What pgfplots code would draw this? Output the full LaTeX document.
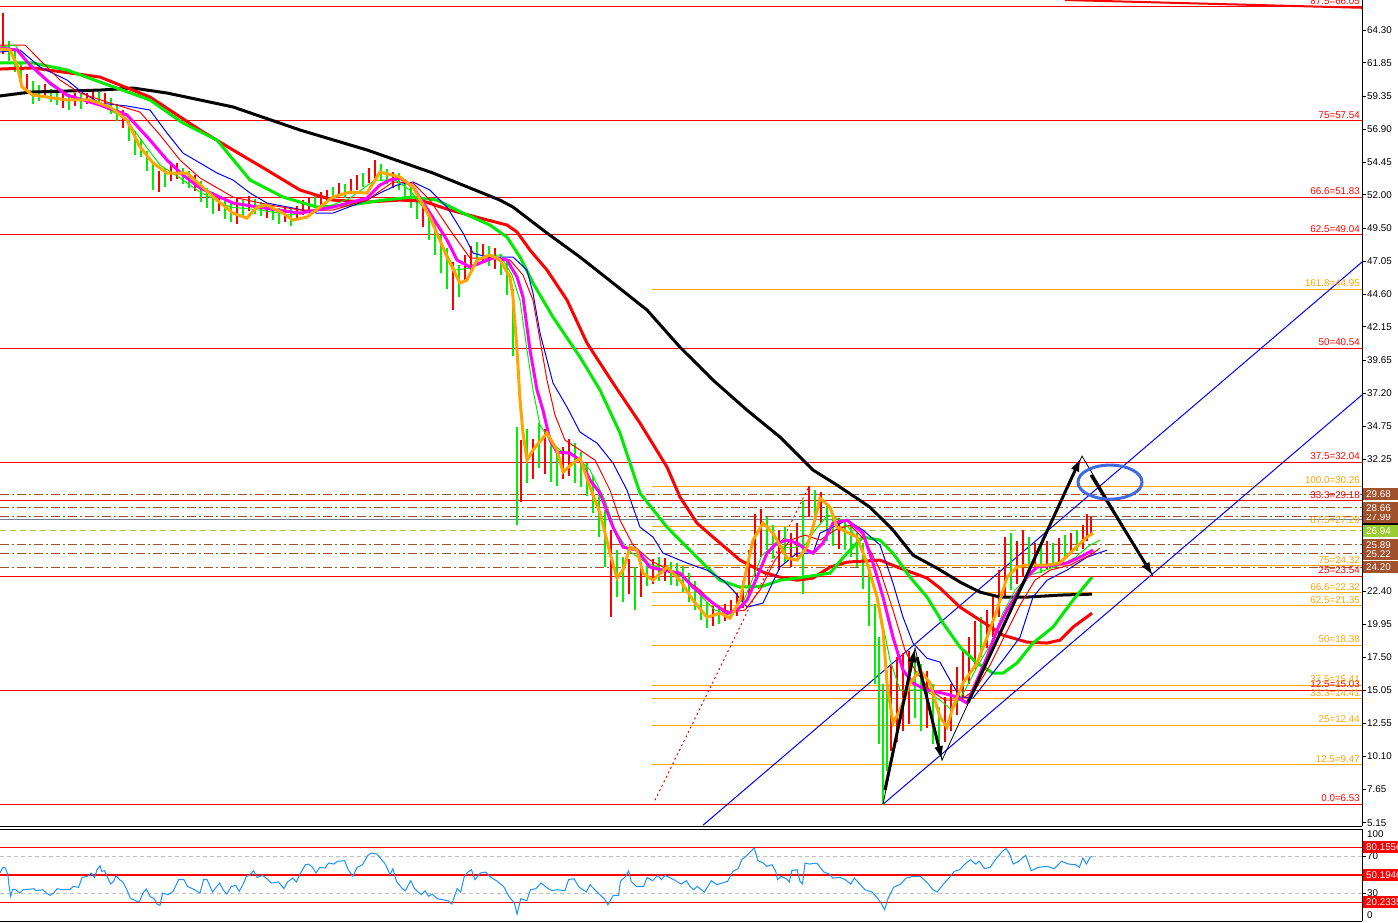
\documentclass[border=0pt]{standalone}
\usepackage{fontspec}
\setmainfont{Liberation Sans}
\usepackage{pgfplots}
\usepackage{pgfplotstable}
\pgfplotsset{compat=1.18}
\usetikzlibrary{arrows.meta}

\definecolor{barG}{RGB}{0,240,0}
\definecolor{barR}{RGB}{255,0,0}
\definecolor{maOr}{RGB}{255,165,0}
\definecolor{maMag}{RGB}{255,0,255}
\definecolor{maGr}{RGB}{0,235,0}
\definecolor{fibOr}{RGB}{255,165,0}
\definecolor{brn}{RGB}{160,82,45}
\definecolor{ygr}{RGB}{154,205,50}
\definecolor{sgray}{RGB}{112,128,144}
\definecolor{rsiB}{RGB}{30,144,255}
\definecolor{ellB}{RGB}{65,105,225}
\definecolor{lblR}{RGB}{255,0,0}
\definecolor{silv}{RGB}{192,192,192}

\newcommand{\lbl}{\fontsize{9.8}{10}\selectfont}

\pgfplotstableread{
x lo hi
9 62.0 63.5
15 61.2 62.8
21 60.2 61.8
33 58.8 60.5
39 59.0 60.2
51 58.9 59.9
57 58.7 59.8
69 58.3 59.5
81 58.4 59.5
99 58.8 59.7
111 58.0 59.2
117 57.5 58.8
129 56.0 57.6
135 55.0 56.8
141 54.8 56.2
147 53.8 55.3
153 52.4 54.5
165 52.6 54.0
183 52.8 54.0
189 52.5 53.8
201 51.5 53.0
207 51.0 52.5
213 50.6 52.2
225 50.2 51.6
231 50.0 51.5
243 50.3 51.6
255 50.6 51.7
261 50.4 51.5
273 50.1 51.2
279 49.8 51.0
291 49.7 51.0
315 51.0 51.9
333 51.6 52.6
345 51.8 52.8
363 52.6 53.6
381 53.0 54.3
387 52.8 53.9
399 52.4 53.6
405 51.8 53.2
411 51.0 52.8
417 50.2 52.2
429 48.6 50.8
435 47.5 50.0
441 46.2 49.0
447 45.0 48.0
459 44.4 46.8
477 46.8 48.5
489 46.7 48.2
501 46.0 47.6
507 44.5 47.0
513 40.0 45.0
517 27.4 34.7
527 30.5 34.5
539 31.6 35.0
551 30.6 33.6
557 30.3 33.0
575 30.5 33.5
581 30.2 32.8
587 29.5 32.0
593 28.3 31.0
599 26.5 30.0
605 24.2 28.5
617 22.0 25.5
623 21.6 25.0
635 21.0 24.2
647 22.8 24.5
659 23.2 25.0
671 22.9 24.6
677 22.8 24.5
683 22.4 24.3
689 21.6 23.8
695 21.0 23.2
701 20.3 22.4
707 19.7 21.6
719 20.0 21.4
767 25.5 28.0
773 24.8 27.4
785 24.5 27.2
803 22.2 29.2
815 27.8 30.0
827 26.2 28.8
833 25.8 28.2
845 25.5 27.8
851 25.0 27.4
857 24.2 26.8
863 22.6 26.0
869 19.8 24.0
875 15.5 21.5
879 11.0 19.0
883 6.5 15.5
887 9.0 16.5
915 13.0 17.6
921 12.0 17.0
933 11.0 15.5
939 10.3 13.8
981 17.5 20.5
1011 22.5 26.8
1029 23.8 26.5
1041 23.8 25.8
1053 24.2 26.0
1065 24.8 26.6
1077 25.4 27.0
}\greenbars

\pgfplotstableread{
x lo hi
3 62.5 65.6
27 59.5 61.0
45 59.3 60.3
63 58.5 59.7
75 58.6 59.6
87 58.8 59.6
93 59.0 59.8
105 58.6 59.6
123 57.0 58.3
159 52.2 53.8
171 53.0 54.2
177 53.2 54.4
195 52.3 53.5
219 50.8 51.9
237 49.8 51.8
249 50.8 51.9
267 50.3 51.4
285 50.0 51.1
297 50.2 51.2
303 50.5 51.6
309 50.9 51.8
321 51.2 52.2
327 51.5 52.4
339 51.9 52.9
351 52.1 53.2
357 52.4 53.5
369 52.9 54.0
375 53.2 54.6
393 52.5 53.7
423 49.6 51.5
453 43.4 47.0
465 45.6 47.5
471 46.4 48.2
483 46.9 48.3
495 46.5 48.0
521 29.1 33.7
533 30.8 33.8
545 31.2 34.5
563 30.8 33.2
569 31.0 33.8
611 20.5 27.0
629 22.2 24.8
641 22.0 24.6
653 23.0 24.8
665 23.2 24.9
713 19.8 21.3
725 20.2 21.5
731 20.4 21.8
737 20.6 22.3
743 21.2 23.2
749 22.0 25.5
755 23.5 28.2
761 25.0 28.6
779 24.0 27.0
791 24.2 26.8
797 25.0 27.5
809 28.0 30.3
821 27.5 29.8
839 25.6 27.9
891 10.5 17.0
897 11.2 17.5
903 12.0 17.8
909 12.5 18.0
927 12.2 16.5
945 11.2 14.5
951 12.0 15.5
957 13.2 16.8
963 14.5 18.0
969 15.5 19.0
975 16.6 20.2
987 18.2 21.0
993 19.0 22.0
999 20.5 24.0
1005 22.0 26.5
1017 23.0 26.2
1023 23.5 27.0
1035 24.0 26.0
1047 24.0 26.2
1059 24.5 26.4
1071 25.2 26.8
1083 25.6 27.4
1087 26.2 28.2
1091 26.8 28.0
}\redbars

\newcommand{\hl}[3]{\addplot[#1, forget plot] coordinates {(#2,#3) (1362,#3)};}
\newcommand{\fl}[3]{\node[anchor=base east, text=#1, font=\lbl, inner sep=0pt, yshift=2.5pt] at (axis cs:1360,#2) {#3};}
\newcommand{\bx}[3]{\fill[#1] ([yshift=-6pt]axis cs:1363,#2) rectangle ([yshift=6pt]axis cs:1400,#2);
  \node[anchor=west, text=#3, font=\lbl, inner sep=0pt] at (axis cs:1366,#2) {#2};}

\begin{document}
\begin{tikzpicture}
\begin{axis}[
  at={(0pt,0pt)}, anchor=north west, scale only axis,
  width=1362pt, height=826pt,
  xmin=0, xmax=1362, ymin=4.91, ymax=66.54,
  clip=false,
  axis x line*=bottom, axis y line*=right,
  axis line style={black, line width=1pt},
  xtick=\empty,
  ytick={64.30,61.85,59.35,56.90,54.45,52.00,49.50,47.05,44.60,42.15,39.65,37.20,34.75,32.25,22.40,19.95,17.50,15.05,12.55,10.10,7.65,5.15},
  yticklabels={64.30,61.85,59.35,56.90,54.45,52.00,49.50,47.05,44.60,42.15,39.65,37.20,34.75,32.25,22.40,19.95,17.50,15.05,12.55,10.10,7.65,5.15},
  tick align=outside, major tick length=4pt,
  tick style={black, line width=0.8pt},
  yticklabel style={anchor=west, inner sep=0pt, xshift=1pt, font=\lbl},
]
% red fib levels (full width)
\hl{red, line width=1pt}{0}{66.05}
\hl{red, line width=1pt}{0}{57.54}
\hl{red, line width=1pt}{0}{51.83}
\hl{red, line width=1pt}{0}{49.04}
\hl{red, line width=1pt}{0}{40.54}
\hl{red, line width=1pt}{0}{32.04}
\hl{red, line width=1pt}{0}{29.18}
\hl{red, line width=1pt}{0}{23.54}
\hl{red, line width=1pt}{0}{15.03}
\hl{red, line width=1pt}{0}{6.53}
% orange fib levels
\hl{fibOr, line width=1pt}{652}{44.95}
\hl{fibOr, line width=1pt}{652}{30.26}
\hl{fibOr, line width=1pt}{652}{27.29}
\hl{fibOr, line width=1pt}{652}{24.32}
\hl{fibOr, line width=1pt}{652}{22.32}
\hl{fibOr, line width=1pt}{652}{21.35}
\hl{fibOr, line width=1pt}{652}{18.38}
\hl{fibOr, line width=1pt}{652}{15.41}
\hl{fibOr, line width=1pt}{652}{14.41}
\hl{fibOr, line width=1pt}{652}{12.44}
\hl{fibOr, line width=1pt}{652}{9.47}
% dashed levels
\hl{brn, line width=1pt, dash pattern=on 9pt off 3pt on 2pt off 3pt}{0}{29.68}
\hl{brn, line width=1pt, dash pattern=on 9pt off 3pt on 2pt off 3pt}{0}{28.66}
\hl{brn, line width=1pt, dash pattern=on 9pt off 3pt on 2pt off 3pt}{0}{27.99}
\hl{brn, line width=1pt, dash pattern=on 9pt off 3pt on 2pt off 3pt}{0}{25.89}
\hl{brn, line width=1pt, dash pattern=on 9pt off 3pt on 2pt off 3pt}{0}{25.22}
\hl{brn, line width=1pt, dash pattern=on 9pt off 3pt on 2pt off 3pt}{0}{24.20}
\hl{sgray, line width=1.2pt}{0}{27.78}
\hl{ygr, line width=1pt, dash pattern=on 6pt off 4pt}{0}{26.94}
% top sloped red line
\addplot[red, line width=2pt, forget plot] coordinates {(1065,66.54) (1362,65.96)};
% red dotted anchor line
\addplot[red, line width=1pt, dash pattern=on 2pt off 3pt, forget plot] coordinates {(655,6.84) (808,30.12)};
% channel
\addplot[blue, line width=1pt, forget plot] coordinates {(703,4.97) (1362,46.99)};
\addplot[blue, line width=1pt, forget plot] coordinates {(883,6.53) (1362,37.08)};

% bars
\addplot[draw=none, no markers, forget plot, error bars/.cd, y dir=plus, y explicit, error mark=none,
  error bar style={draw=barG, solid, line width=1.6pt}] table[x=x, y=lo, y error expr=\thisrow{hi}-\thisrow{lo}] {\greenbars};
\addplot[draw=none, no markers, forget plot, error bars/.cd, y dir=plus, y explicit, error mark=none,
  error bar style={draw=barR, solid, line width=1.6pt}] table[x=x, y=lo, y error expr=\thisrow{hi}-\thisrow{lo}] {\redbars};

% moving averages
\addplot[black, line width=3pt, forget plot] coordinates {(0,59.38) (30,59.67) (100,59.82) (133,59.97) (167,59.60) (233,58.56) (300,56.84) (367,55.35) (433,53.63) (500,51.61) (513,51.09) (547,49.15) (580,47.36) (613,45.42) (647,43.41) (680,40.64) (713,38.18) (747,35.94) (780,33.93) (813,31.47) (837,30.35) (870,28.70) (893,26.99) (913,25.12) (937,24.15) (960,23.11) (980,22.36) (1000,21.99) (1027,21.99) (1060,22.14) (1092,22.21)};
\addplot[red, line width=3pt, forget plot] coordinates {(0,61.39) (33,61.47) (100,60.79) (150,59.30) (200,56.84) (233,55.35) (267,53.85) (300,52.36) (333,51.61) (367,51.47) (400,51.61) (423,51.54) (450,50.87) (480,50.27) (507,49.75) (517,49.23) (530,47.88) (547,46.39) (567,44.15) (587,40.94) (613,37.96) (640,34.97) (667,31.69) (680,29.45) (697,27.51) (713,26.47) (740,24.75) (763,23.85) (780,23.48) (797,23.25) (813,23.41) (830,24.23) (847,24.60) (880,24.75) (900,24.15) (927,23.41) (940,22.66) (960,21.24) (980,20.27) (1003,19.15) (1027,18.63) (1047,18.56) (1060,18.78) (1073,19.75) (1092,20.79)};
\addplot[maGr, line width=3pt, forget plot] coordinates {(0,61.84) (33,61.84) (67,61.32) (100,60.42) (150,59.08) (183,57.36) (217,56.09) (250,53.11) (283,51.84) (317,51.09) (350,51.24) (383,51.61) (413,51.84) (437,51.61) (463,50.64) (490,49.75) (507,48.85) (520,47.36) (533,45.42) (553,42.88) (580,39.90) (600,37.44) (620,34.23) (640,29.75) (667,27.21) (697,24.97) (720,23.25) (740,22.73) (763,22.81) (780,23.25) (797,23.41) (830,23.78) (847,25.27) (863,26.47) (880,26.24) (893,25.27) (910,23.48) (927,21.99) (943,20.05) (960,18.26) (977,17.07) (993,16.32) (1003,16.32) (1017,17.07) (1033,18.56) (1053,19.75) (1073,21.76) (1092,23.48)};
\addplot[blue, line width=1pt, forget plot] coordinates {(0,62.66) (20,62.81) (40,61.54) (67,60.57) (83,59.60) (100,58.85) (127,58.63) (150,58.33) (167,56.61) (183,55.12) (200,54.38) (217,53.63) (233,53.11) (250,52.14) (267,51.39) (293,51.02) (317,50.64) (333,50.64) (367,51.61) (380,52.14) (397,52.73) (413,52.96) (430,52.36) (447,51.09) (463,49.15) (473,47.66) (487,47.36) (513,47.36) (527,46.39) (533,44.67) (540,41.69) (553,37.96) (567,36.17) (580,34.30) (597,33.48) (613,31.99) (627,29.97) (640,27.21) (653,26.47) (663,25.27) (687,24.53) (707,24.00) (723,23.25) (733,22.51) (747,21.24) (763,21.54) (780,24.23) (797,25.27) (813,25.27) (820,26.76) (847,27.73) (863,26.99) (880,25.87) (893,23.03) (903,20.49) (913,18.56) (927,17.43) (940,17.14) (950,15.79) (960,14.53) (973,14.45) (987,15.79) (1003,17.29) (1020,19.00) (1033,21.99) (1047,23.25) (1067,24.00) (1087,24.97) (1107,25.49)};
\addplot[red, line width=1pt, forget plot] coordinates {(0,63.18) (25,63.18) (40,62.06) (60,60.57) (80,59.60) (110,58.85) (140,58.18) (160,56.47) (180,54.60) (200,53.26) (233,51.84) (270,51.24) (300,50.87) (333,50.87) (367,51.61) (393,52.96) (413,52.88) (430,51.61) (450,49.38) (470,47.29) (490,47.29) (510,47.14) (523,46.02) (533,44.15) (540,41.17) (547,38.18) (555,35.57) (565,33.70) (580,32.96) (595,32.21) (610,29.97) (620,27.73) (633,25.87) (650,24.75) (665,24.15) (680,23.63) (700,22.51) (715,21.39) (730,20.87) (745,21.02) (760,22.51) (775,24.75) (790,26.24) (805,26.61) (820,26.24) (835,26.99) (850,27.36) (865,26.24) (880,24.00) (893,21.02) (905,18.03) (915,16.54) (930,15.05) (945,14.30) (960,14.30) (975,15.05) (990,16.91) (1005,19.15) (1020,21.39) (1035,23.25) (1050,24.00) (1070,24.38) (1090,25.12) (1100,25.64)};
\addplot[barG, line width=1pt, forget plot] coordinates {(0,63.03) (15,63.18) (30,61.69) (50,60.20) (70,59.30) (100,58.70) (125,57.73) (145,55.72) (160,54.23) (180,53.26) (200,52.21) (230,51.09) (260,50.87) (290,50.50) (320,50.87) (350,51.76) (375,53.11) (395,53.11) (410,52.36) (425,50.87) (440,48.63) (455,46.39) (470,46.54) (485,47.51) (500,47.51) (512,46.02) (520,44.15) (527,40.42) (533,37.44) (540,34.82) (550,33.70) (560,32.96) (575,32.58) (590,31.47) (605,29.23) (615,26.99) (628,25.49) (645,24.60) (665,24.00) (685,23.41) (700,22.14) (715,21.02) (730,20.64) (742,21.39) (752,23.25) (762,25.12) (775,25.87) (790,25.64) (805,25.87) (815,26.99) (828,28.11) (842,27.73) (855,26.61) (870,24.00) (880,21.02) (890,17.29) (900,15.05) (912,15.05) (925,15.05) (940,14.30) (952,13.56) (965,15.05) (978,16.91) (990,18.41) (1002,20.64) (1015,22.51) (1030,23.63) (1045,24.00) (1060,24.38) (1075,24.94) (1090,25.87) (1100,26.24)};
\addplot[maMag, line width=3pt, forget plot] coordinates {(0,62.96) (17,62.81) (30,61.69) (50,60.35) (67,59.45) (100,58.70) (127,57.96) (150,56.09) (167,54.60) (183,53.48) (200,52.51) (233,51.39) (277,50.87) (300,50.64) (333,51.09) (367,51.76) (380,52.73) (390,53.11) (400,53.26) (413,52.59) (430,50.64) (447,48.63) (457,47.14) (470,46.61) (480,46.91) (493,47.29) (507,47.14) (517,45.87) (523,44.38) (530,40.42) (537,37.44) (543,35.94) (550,33.70) (557,32.81) (570,32.73) (580,32.21) (590,30.72) (600,29.75) (613,27.21) (623,25.72) (637,25.49) (650,24.23) (663,24.00) (680,23.78) (693,22.73) (713,21.54) (727,20.79) (737,21.02) (747,21.76) (757,23.48) (767,25.27) (777,26.02) (787,26.24) (797,26.02) (807,25.49) (813,25.27) (823,26.02) (833,27.51) (847,27.73) (863,26.76) (873,24.53) (883,21.99) (893,19.00) (903,16.54) (913,15.57) (927,15.05) (943,14.82) (957,14.53) (967,14.08) (977,15.79) (987,17.51) (997,19.52) (1007,21.02) (1017,22.28) (1027,23.48) (1037,24.23) (1053,24.38) (1067,24.53) (1080,24.97) (1093,25.49)};
\addplot[maOr, line width=3pt, forget plot] coordinates {(0,62.88) (10,62.81) (17,61.69) (22,60.05) (33,59.45) (67,59.08) (90,59.08) (110,58.56) (127,57.58) (140,55.57) (153,54.38) (167,53.63) (187,53.63) (217,51.61) (233,50.64) (247,50.27) (257,51.09) (267,51.24) (283,50.64) (293,50.12) (307,50.35) (320,51.09) (333,51.84) (350,52.21) (367,52.14) (380,53.70) (400,53.33) (413,52.59) (430,50.35) (447,47.36) (460,45.42) (467,45.64) (477,47.14) (490,47.51) (500,47.14) (510,45.87) (513,44.38) (517,40.42) (520,36.69) (523,34.23) (527,32.21) (533,32.96) (547,34.23) (557,32.96) (563,31.32) (573,31.99) (580,32.36) (590,30.20) (600,28.26) (610,25.27) (617,23.41) (623,24.00) (630,25.72) (637,25.49) (643,23.78) (653,23.25) (667,24.23) (680,23.25) (693,21.76) (707,20.49) (720,20.79) (730,20.42) (740,21.76) (747,24.23) (753,26.24) (763,27.51) (773,26.76) (787,24.90) (797,24.75) (807,25.72) (813,27.21) (820,29.38) (830,28.70) (837,27.21) (847,26.84) (857,26.47) (867,24.53) (877,21.99) (883,19.52) (887,15.57) (893,12.58) (900,13.56) (910,15.57) (920,16.54) (930,15.57) (940,13.03) (947,12.29) (953,13.78) (963,15.57) (977,17.07) (987,18.98) (997,21.02) (1007,23.48) (1017,24.23) (1027,24.38) (1047,24.38) (1060,24.53) (1073,25.49) (1087,26.47) (1093,26.76)};

% pattern lines and arrows
\addplot[black, line width=0.8pt, forget plot] coordinates {(883,6.53) (915,18.18) (942,9.82) (1082,32.51) (1153,23.55)};
\draw[black, line width=3pt, -{Latex[length=14pt,width=9pt]}] (axis cs:885,7.6) -- (axis cs:915,18.18);
\draw[black, line width=3pt, -{Latex[length=14pt,width=9pt]}] (axis cs:917,17.5) -- (axis cs:942,9.82);
\draw[black, line width=3pt, -{Latex[length=14pt,width=9pt]}] (axis cs:968,14.1) -- (axis cs:1081,32.4);
\draw[black, line width=3pt, -{Latex[length=14pt,width=9pt]}] (axis cs:1091,31.1) -- (axis cs:1153,23.55);
\draw[ellB, line width=3pt] (axis cs:1110,30.57) ellipse [x radius=32pt, y radius=17pt];

% level labels
\fl{lblR}{66.05}{87.5=66.05}
\fl{lblR}{57.54}{75=57.54}
\fl{lblR}{51.83}{66.6=51.83}
\fl{lblR}{49.04}{62.5=49.04}
\fl{lblR}{40.54}{50=40.54}
\fl{lblR}{32.04}{37.5=32.04}
\fl{lblR}{29.18}{33.3=29.18}
\fl{lblR}{23.54}{25=23.54}
\fl{lblR}{15.03}{12.5=15.03}
\fl{lblR}{6.53}{0.0=6.53}
\fl{fibOr}{44.95}{161.8=44.95}
\fl{fibOr}{30.26}{100.0=30.26}
\fl{fibOr}{27.29}{87.5=27.29}
\fl{fibOr}{24.32}{75=24.32}
\fl{fibOr}{22.32}{66.6=22.32}
\fl{fibOr}{21.35}{62.5=21.35}
\fl{fibOr}{18.38}{50=18.38}
\fl{fibOr}{15.41}{37.5=15.41}
\fl{fibOr}{14.41}{33.3=14.41}
\fl{fibOr}{12.44}{25=12.44}
\fl{fibOr}{9.47}{12.5=9.47}

% price boxes
\bx{black}{27.78}{white}
\bx{ygr}{26.94}{white}
\bx{brn}{27.99}{white}
\bx{brn}{28.66}{white}
\bx{brn}{29.68}{white}
\bx{brn}{25.89}{white}
\bx{brn}{25.22}{white}
\bx{brn}{24.20}{white}
\end{axis}

\begin{axis}[
  at={(0pt,-829pt)}, anchor=north west, scale only axis,
  width=1362pt, height=92pt,
  xmin=0, xmax=1362, ymin=0, ymax=100,
  clip=false,
  axis x line*=box, axis y line*=right,
  axis line style={black, line width=1pt},
  xtick=\empty, ytick={70,30}, yticklabels={70,30},
  tick align=outside, major tick length=4pt,
  tick style={black, line width=0.8pt},
  yticklabel style={anchor=west, inner sep=0pt, xshift=1pt, font=\lbl},
]
\addplot[silv, line width=1pt, dash pattern=on 4pt off 3pt, forget plot] coordinates {(0,70) (1362,70)};
\addplot[silv, line width=1pt, dash pattern=on 4pt off 3pt, forget plot] coordinates {(0,30) (1362,30)};
\addplot[red, line width=1.5pt, forget plot] coordinates {(0,80.1556) (1362,80.1556)};
\addplot[red, line width=1.5pt, forget plot] coordinates {(0,50.1946) (1362,50.1946)};
\addplot[red, line width=1.5pt, forget plot] coordinates {(0,20.2335) (1362,20.2335)};
\addplot[rsiB, line width=1pt, forget plot] coordinates {(0,52.2) (2.9,58.3) (5.4,57.6) (7.9,50.3) (8.9,39.5) (10.7,26.8) (12.5,34.0) (16,34.0) (19.6,30.4) (23.2,34.0) (34,35.1) (35.7,33.0) (42.9,34.0) (46.4,30.4) (50,27.8) (53.6,30.4) (57.1,35.1) (62.5,34.0) (69.6,34.0) (73.2,37.6) (78.6,36.6) (82.1,47.4) (87.5,48.5) (91.1,52.2) (94.6,47.4) (97.1,55.8) (100,60.1) (101.8,54.0) (104.6,54.7) (107.1,48.5) (110.7,40.2) (113.6,43.1) (116.1,49.6) (119.6,44.9) (123.2,42.0) (126.8,34.0) (130.4,24.9) (135.7,22.0) (139.3,20.6) (142.9,30.4) (146.4,34.7) (150,26.8) (154.3,24.2) (157.1,18.4) (160,17.0) (162.5,30.4) (167.9,28.6) (173.2,32.2) (178.6,44.9) (183.9,44.9) (187.5,37.6) (194.6,34.0) (200,30.4) (203.6,44.9) (207.1,44.9) (212.5,31.5) (216.1,36.6) (219.6,41.3) (223.2,34.0) (226.8,29.3) (231.4,37.6) (235.7,38.7) (239.3,32.2) (242.9,39.5) (246.4,48.5) (250,50.3) (253.6,54.7) (257.1,47.4) (262.5,49.6) (266.1,46.7) (271.4,41.3) (278.6,42.4) (283.9,35.1) (287.5,42.4) (292.9,46.7) (296.4,42.4) (300,51.1) (305.4,61.2) (308.9,61.9) (312.5,58.3) (316.1,52.2) (319.6,58.3) (325,57.6) (328.6,63.0) (333.9,61.9) (337.5,64.9) (344.6,65.6) (348.2,55.8) (352.9,48.5) (357.1,58.3) (362.5,61.2) (367.9,71.4) (371.4,73.9) (376.8,72.9) (380.4,68.5) (385.7,61.2) (390,50.3) (392.9,56.9) (396.4,43.1) (401.8,35.8) (405.4,32.9) (410.7,43.8) (414.3,35.8) (417.9,31.5) (421.4,28.6) (425,32.9) (428.6,26.8) (432.1,29.3) (437.5,24.2) (442.9,23.1) (448.2,22.0) (451.8,18.4) (457.1,35.1) (460.7,31.5) (464.3,48.5) (467.9,53.2) (471.4,55.8) (475,44.9) (480.4,52.2) (485.7,53.2) (491.1,47.4) (496.4,43.8) (503.6,37.6) (508.9,26.8) (514.3,19.5) (517.1,7.5) (520.7,24.2) (526.8,22.0) (530.4,34.0) (535.7,35.1) (541.1,41.3) (546.4,36.6) (551.8,33.0) (557.1,34.0) (565,32.9) (568.6,44.9) (573.9,46.0) (579.3,36.6) (586.4,31.5) (590,39.5) (597.1,31.5) (604.3,24.2) (607.9,17.7) (613.2,27.8) (618.6,27.8) (620.4,43.1) (625.7,48.5) (628.6,54.7) (631.1,43.1) (636.4,37.6) (643.6,37.6) (647.1,47.4) (652.5,43.8) (657.9,49.6) (661.4,44.9) (665,49.6) (673.9,44.9) (681.1,40.2) (686.4,43.8) (690,37.6) (693.6,34.0) (697.1,37.6) (704.3,31.5) (711.4,43.8) (716.8,39.5) (722.1,41.3) (727.5,43.1) (732.9,54.0) (738.2,56.9) (741.8,66.7) (747.1,71.4) (750.7,75.8) (754.3,79.4) (757.9,65.6) (763.2,63.0) (766.8,59.4) (772.1,61.2) (775.7,54.0) (777.5,44.9) (781.1,48.5) (786.4,46.0) (789.3,42.4) (791.8,54.7) (797.1,55.8) (800,43.1) (802.5,40.2) (805,63.0) (809.6,61.9) (816.8,63.0) (823.9,53.2) (829.3,51.1) (832.9,46.7) (840,47.4) (845.4,44.9) (850.7,40.2) (854.3,46.7) (859.6,40.2) (865,34.0) (872.1,31.5) (877.5,24.9) (881.1,19.5) (884.6,12.2) (888.2,24.9) (893.6,36.6) (900.7,40.2) (906.1,46.7) (913.2,48.5) (920.4,48.5) (927.5,41.3) (932.9,34.0) (937.1,31.5) (943.6,40.2) (948.9,46.7) (954.3,54.0) (959.6,55.8) (965,61.9) (970.4,66.7) (975.7,61.9) (979.3,64.9) (984.6,56.9) (990,58.3) (995.4,66.7) (1002.5,75.8) (1006.1,78.7) (1009.6,72.9) (1013.2,61.9) (1018.6,64.9) (1025.7,71.4) (1031.1,54.7) (1038.2,58.3) (1047.1,59.4) (1054.3,56.9) (1061.4,64.9) (1068.6,61.9) (1075.7,61.2) (1079.3,58.3) (1082.9,68.5) (1086.4,61.9) (1090,69.2) (1091.8,70.3)};
\node[anchor=north west, font=\lbl, inner sep=0pt] at ([yshift=-1pt]axis cs:1367,100) {100};
\node[anchor=south west, font=\lbl, inner sep=0pt] at ([yshift=2pt]axis cs:1367,0) {0};
\fill[red] ([yshift=-6pt]axis cs:1363,80.1556) rectangle ([yshift=6pt]axis cs:1400,80.1556);
\node[anchor=west, text=white, font=\lbl, inner sep=0pt] at (axis cs:1366,80.1556) {80.1556};
\fill[red] ([yshift=-6pt]axis cs:1363,50.1946) rectangle ([yshift=6pt]axis cs:1400,50.1946);
\node[anchor=west, text=white, font=\lbl, inner sep=0pt] at (axis cs:1366,50.1946) {50.1946};
\fill[red] ([yshift=-6pt]axis cs:1363,20.2335) rectangle ([yshift=6pt]axis cs:1400,20.2335);
\node[anchor=west, text=white, font=\lbl, inner sep=0pt] at (axis cs:1366,20.2335) {20.2335};
\end{axis}
\pgfresetboundingbox
\path[use as bounding box] (0pt,0pt) rectangle (1398pt,-922pt);
\end{tikzpicture}
\end{document}
